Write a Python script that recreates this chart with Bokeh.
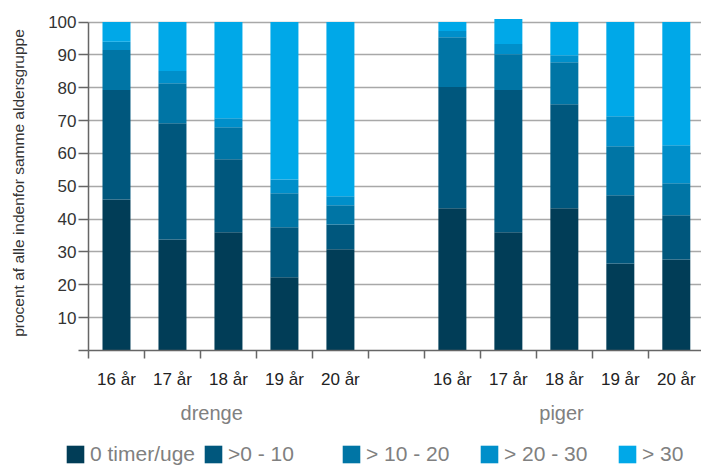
from bokeh.plotting import figure
from bokeh.layouts import column, row
from bokeh.models import (ColumnDataSource, FixedTicker, LinearAxis, Legend,
                          LegendItem, Range1d)
from bokeh.embed import file_html
from bokeh.resources import INLINE

# ---- data -------------------------------------------------------------
ages = ["16 år", "17 år", "18 år", "19 år", "20 år"]
groups = ["drenge", "piger"]
series = ["0 timer/uge", ">0 - 10", "> 10 - 20", "> 20 - 30", "> 30"]
colors = ["#013d57", "#00577d", "#0075a5", "#008fca", "#00a8e8"]

drenge_0 = [46.0, 33.8, 36.0, 22.3, 30.8]
drenge_0_10 = [33.3, 35.4, 22.2, 15.2, 7.6]
drenge_10_20 = [12.2, 12.2, 9.8, 10.4, 5.8]
drenge_20_30 = [2.5, 3.7, 2.7, 4.2, 2.8]
drenge_30 = [6.0, 14.9, 29.3, 47.9, 53.0]

piger_0 = [43.3, 36.0, 43.3, 26.5, 27.7]
piger_0_10 = [36.9, 43.3, 31.7, 20.8, 13.5]
piger_10_20 = [15.2, 10.9, 12.8, 14.9, 9.7]
piger_20_30 = [1.9, 3.1, 2.1, 9.1, 11.6]
piger_30 = [2.7, 7.6, 10.1, 28.7, 37.5]

y_ticks = [0, 10, 20, 30, 40, 50, 60, 70, 80, 90, 100]

# ---- layout of category slots (5 drenge, gap, 5 piger) ---------------
n = len(ages)
slot_x = [i + 0.5 for i in range(n)] + [n + 1 + i + 0.5 for i in range(n)]
boundaries = list(range(0, 2 * n + 2))
group_x = [2.2, 8.45]

keys = ["s0", "s1", "s2", "s3", "s4"]
source = ColumnDataSource(dict(
    x=slot_x,
    s0=drenge_0 + piger_0,
    s1=drenge_0_10 + piger_0_10,
    s2=drenge_10_20 + piger_10_20,
    s3=drenge_20_30 + piger_20_30,
    s4=drenge_30 + piger_30,
))

FONT = "Liberation Sans"
AXIS_COL = "#666666"

p = figure(width=701, height=432, x_range=Range1d(0, 10.95),
           y_range=Range1d(0, 102), output_backend="svg",
           toolbar_location=None, min_border_left=88, min_border_right=0,
           min_border_top=15, min_border_bottom=82)
p.outline_line_color = None

p.vbar_stack(keys, x="x", width=0.5, color=colors, line_color=None,
             source=source)

# grid
p.xgrid.visible = False
p.ygrid.ticker = FixedTicker(ticks=y_ticks[1:])
p.ygrid.grid_line_color = "#a8a8a8"
p.ygrid.grid_line_width = 1.5

# y axis
ya = p.yaxis[0]
ya.ticker = FixedTicker(ticks=y_ticks)
ya.major_label_overrides = {0: ""}
ya.bounds = (0, 100)
ya.minor_tick_line_color = None
ya.major_tick_in = 0
ya.major_tick_out = 10
ya.major_label_standoff = 2
ya.major_label_text_font = FONT
ya.major_label_text_font_size = "17px"
ya.major_label_text_color = "#333333"
ya.axis_line_color = AXIS_COL
ya.axis_line_width = 1.5
ya.major_tick_line_color = AXIS_COL
ya.major_tick_line_width = 1.5
ya.axis_label = "procent af alle indenfor samme aldersgruppe"
ya.axis_label_text_font = FONT
ya.axis_label_text_font_size = "15.5px"
ya.axis_label_text_font_style = "normal"
ya.axis_label_text_color = "#333333"
ya.axis_label_standoff = 18

# x axis (age labels at bar centres, tick marks at slot boundaries)
xa = p.xaxis[0]
xa.ticker = FixedTicker(ticks=slot_x, minor_ticks=boundaries)
xa.major_label_overrides = {x: a for x, a in zip(slot_x, ages + ages)}
xa.major_tick_out = 0
xa.major_tick_in = 0
xa.minor_tick_out = 8
xa.minor_tick_in = 0
xa.minor_tick_line_color = AXIS_COL
xa.minor_tick_line_width = 1.5
xa.axis_line_color = AXIS_COL
xa.axis_line_width = 1.5
xa.major_label_standoff = 11
xa.major_label_text_font = FONT
xa.major_label_text_font_size = "17px"
xa.major_label_text_color = "#222222"

# group labels
ga = LinearAxis(ticker=FixedTicker(ticks=group_x),
                major_label_overrides={x: g for x, g in zip(group_x, groups)})
ga.axis_line_color = None
ga.major_tick_line_color = None
ga.minor_tick_line_color = None
ga.major_label_standoff = 4
ga.major_label_text_font = FONT
ga.major_label_text_font_size = "20px"
ga.major_label_text_color = "#808080"
p.add_layout(ga, "below")

# ---- legend strip ----------------------------------------------------
lg = figure(width=701, height=36, x_range=Range1d(0, 1), y_range=Range1d(0, 1),
            output_backend="svg", toolbar_location=None, min_border=0,
            x_axis_location=None, y_axis_location=None)
lg.outline_line_color = None
lg.grid.visible = False
dummy = [lg.vbar(x=[-5], top=[0], width=0.5, color=c, line_color=None)
         for c in colors]
legend = Legend(items=[LegendItem(label=s, renderers=[r])
                       for s, r in zip(series, dummy)],
                orientation="horizontal", location=(64, 2),
                glyph_width=22, glyph_height=22, label_standoff=4,
                label_width=112, spacing=0, padding=0, margin=0,
                border_line_color=None, background_fill_alpha=0,
                label_text_font=FONT, label_text_font_size="21px",
                label_text_color="#808080")
lg.add_layout(legend, "center")

page = column(p, row(lg), spacing=0)
open("out.html", "w").write(file_html(page, INLINE))
